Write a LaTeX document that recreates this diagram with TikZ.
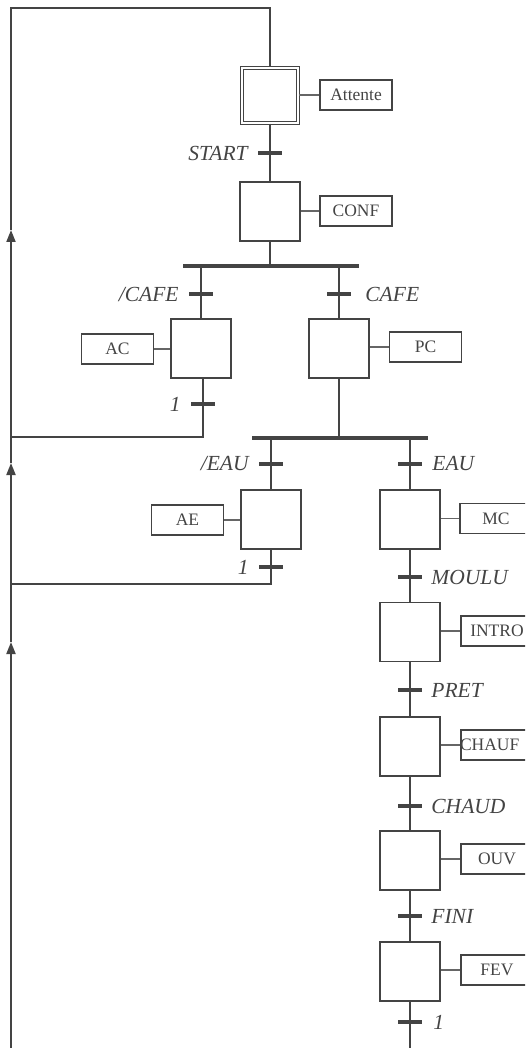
\documentclass[tikz,border=0pt]{standalone}
\usepackage{fontspec}
\setmainfont{Liberation Serif}
\usetikzlibrary{arrows.meta,calc}
\definecolor{gc}{HTML}{444444}
\definecolor{lc}{HTML}{666666}
\begin{document}
\begin{tikzpicture}[x=1pt,y=-1pt,
  etape/.style={draw=gc, line width=1.7pt, minimum width=60pt, minimum height=59pt, inner sep=0pt},
  init/.style={draw=gc, line width=1.5pt, double=white, double distance=1.6pt, minimum width=56pt, minimum height=55pt, inner sep=0pt},
  action/.style={draw=gc, line width=1.7pt, minimum width=72pt, minimum height=30pt, inner sep=0pt, text=gc, font=\fontsize{17.5}{20}\selectfont},
  trans/.style={fill=gc, minimum width=24pt, minimum height=4.2pt, inner sep=0pt},
  bus/.style={fill=gc, minimum height=3.4pt, inner sep=0pt},
  tlab/.style={text=gc, font=\fontsize{21.5}{24}\itshape\selectfont, inner sep=0pt},
  conn/.style={draw=gc, line width=1.9pt},
  link/.style={draw=lc, line width=1.3pt},
  tip/.style={-{Triangle[length=12pt,width=9pt]}}
]
\clip (0,0) rectangle (525,1048);
% steps
\node[init]  (s0) at (270,95.5) {};
\node[etape] (s1) at (270,211.5) {};
\node[etape] (s2) at (201,348.5) {};
\node[etape] (s3) at (339,348.5) {};
\node[etape] (s4) at (271,519.5) {};
\node[etape] (s5) at (410,519.5) {};
\node[etape] (s6) at (410,632) {};
\node[etape] (s7) at (410,746.5) {};
\node[etape] (s8) at (410,860.5) {};
\node[etape] (s9) at (410,971.5) {};
% actions
\node[action] (a0) at (356,95)    {Attente};
\node[action] (a1) at (356,211)   {CONF};
\node[action] (a2) at (117.5,349) {AC};
\node[action] (a3) at (425.5,347) {PC};
\node[action] (a4) at (187.5,520) {AE};
\node[action] (a5) at (496,518.5) {MC};
\node[action] (a6) at (497,631)   {INTRO};
\node[action, text width=72pt, align=left] (a7) at (497,745) {\hspace*{-1pt}CHAUF};
\node[action] (a8) at (497,859)   {OUV};
\node[action] (a9) at (497,970)   {FEV};
% buses
\node[bus, minimum width=176pt] (d1) at (271,266) {};
\node[bus, minimum width=176pt] (d2) at (340,438) {};
% transitions
\node[trans, label={[tlab,label distance=10pt]left:START}] (t0) at (270,153) {};
\node[trans, label={[tlab,label distance=10pt]left:/CAFE}] (t1) at (201,294) {};
\node[trans, label={[tlab,label distance=14pt]right:CAFE}] (t2) at (339,294) {};
\node[trans, label={[tlab,label distance=10pt]left:1}] (t3) at (203,404) {};
\node[trans, label={[tlab,label distance=10pt]left:/EAU}] (t4) at (271,464) {};
\node[trans, label={[tlab,label distance=10pt]right:EAU}] (t5) at (410,464) {};
\node[trans, label={[tlab,label distance=10pt]left:1}] (t6) at (271,567) {};
\node[trans, label={[tlab,label distance=9pt]right:MOULU}] (t7) at (410,577) {};
\node[trans, label={[tlab,label distance=9pt]right:PRET}] (t8) at (410,690) {};
\node[trans, label={[tlab,label distance=9pt]right:CHAUD}] (t9) at (410,806) {};
\node[trans, label={[tlab,label distance=9pt]right:FINI}] (t10) at (410,916) {};
\node[trans, label={[tlab,label distance=11pt]right:1}] (t11) at (410,1022) {};
% coordinates of the return line
\coordinate (top) at (11,8);
\coordinate (bot) at (11,1048);
\coordinate (j1) at (11,437);
\coordinate (j2) at (11,584);
\coordinate (ar1) at (11,230);
\coordinate (ar2) at (11,463);
\coordinate (ar3) at (11,642);
\coordinate (end) at (410,1048);
% action links
\draw[link] (s0.east |- a0.west) -- (a0.west);
\draw[link] (s1.east |- a1.west) -- (a1.west);
\draw[link] (s2.west |- a2.east) -- (a2.east);
\draw[link] (s3.east |- a3.west) -- (a3.west);
\draw[link] (s4.west |- a4.east) -- (a4.east);
\draw[link] (s5.east |- a5.west) -- (a5.west);
\draw[link] (s6.east |- a6.west) -- (a6.west);
\draw[link] (s7.east |- a7.west) -- (a7.west);
\draw[link] (s8.east |- a8.west) -- (a8.west);
\draw[link] (s9.east |- a9.west) -- (a9.west);
% connectors
\draw[conn] (s0.south) -- (t0.center) -- (s1.north);
\draw[conn] (s1.south) -- (s1.south |- d1.center);
\draw[conn] (t1.center |- d1.center) -- (t1.center) -- (s2.north);
\draw[conn] (t2.center |- d1.center) -- (t2.center) -- (s3.north);
\draw[conn] (s2.south -| t3.center) -- (t3.center) -- (t3.center |- j1) -- (j1);
\draw[conn] (s3.south) -- (s3.south |- d2.center);
\draw[conn] (t4.center |- d2.center) -- (t4.center) -- (s4.north);
\draw[conn] (t5.center |- d2.center) -- (t5.center) -- (s5.north);
\draw[conn] (s4.south) -- (t6.center) -- (t6.center |- j2) -- (j2);
\draw[conn] (s5.south) -- (t7.center) -- (s6.north);
\draw[conn] (s6.south) -- (t8.center) -- (s7.north);
\draw[conn] (s7.south) -- (t9.center) -- (s8.north);
\draw[conn] (s8.south) -- (t10.center) -- (s9.north);
\draw[conn] (s9.south) -- (t11.center) -- (end);
% return line
\draw[conn,tip] (bot) -- (ar3);
\draw[conn,tip] (ar3) -- (j2) -- (ar2);
\draw[conn,tip] (ar2) -- (j1) -- (ar1);
\draw[conn] (ar1) -- (top) -- (top -| s0.north) -- (s0.north);
\end{tikzpicture}
\end{document}
